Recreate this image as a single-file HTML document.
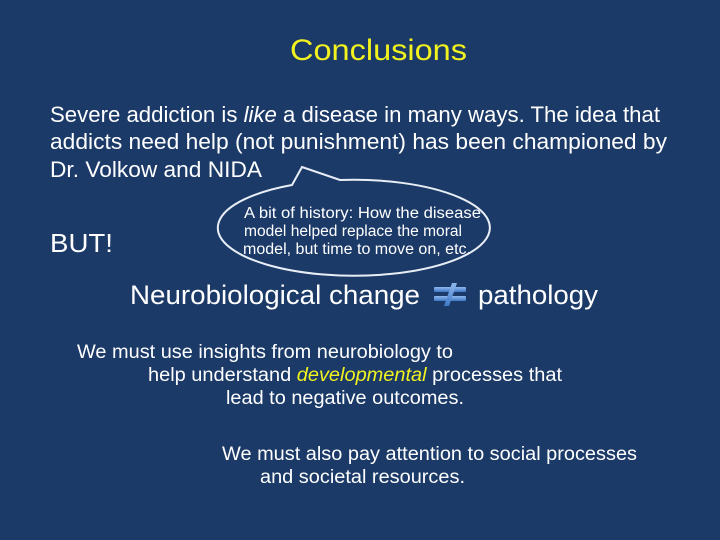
<!DOCTYPE html>
<html><head><meta charset="utf-8"><style>
html,body{margin:0;padding:0;background:#1b3a68;}
svg{display:block}
</style></head><body>
<svg width="720" height="540" xmlns="http://www.w3.org/2000/svg">
<defs>
<linearGradient id="ne" x1="0" y1="0" x2="0" y2="1">
<stop offset="0" stop-color="#8fb8ec"/><stop offset="1" stop-color="#3f78c8"/>
</linearGradient>
</defs>
<rect width="720" height="540" fill="#1b3a68"/>
<g font-family="Liberation Sans, sans-serif">
<text x="290" y="60" font-size="30" fill="#f2f21e" textLength="177" lengthAdjust="spacingAndGlyphs">Conclusions</text>
<g fill="#ffffff" font-size="22">
<text x="50" y="122" textLength="610" lengthAdjust="spacingAndGlyphs">Severe addiction is <tspan font-style="italic">like</tspan> a disease in many ways. The idea that</text>
<text x="50" y="149" textLength="617" lengthAdjust="spacingAndGlyphs">addicts need help (not punishment) has been championed by</text>
<text x="50" y="177" textLength="212" lengthAdjust="spacingAndGlyphs">Dr. Volkow and NIDA</text>
<text x="50" y="252" font-size="26" textLength="63" lengthAdjust="spacingAndGlyphs">BUT!</text>
</g>
<path d="M292,185 L302,167 L340,180 A136,48 0 1 1 292,185 Z" fill="#1b3a68" stroke="#e8eef6" stroke-width="2"/>
<g fill="#ffffff" font-size="15.5">
<text x="244" y="218" textLength="237" lengthAdjust="spacingAndGlyphs">A bit of history: How the disease</text>
<text x="244" y="236" textLength="218" lengthAdjust="spacingAndGlyphs">model helped replace the moral</text>
<text x="243" y="254" textLength="228" lengthAdjust="spacingAndGlyphs">model, but time to move on, etc.</text>
</g>
<g fill="#ffffff" font-size="27">
<text x="130" y="304" textLength="290" lengthAdjust="spacingAndGlyphs">Neurobiological change</text>
<text x="478" y="304" textLength="120" lengthAdjust="spacingAndGlyphs">pathology</text>
</g>
<g fill="url(#ne)">
<rect x="434" y="287" width="32" height="5" rx="1"/>
<rect x="434" y="296" width="32" height="5" rx="1"/>
<polygon points="452,283 457,283 449,306 444,306"/>
</g>
<g fill="#ffffff" font-size="19">
<text x="77" y="358" textLength="376" lengthAdjust="spacingAndGlyphs">We must use insights from neurobiology to</text>
<text x="148" y="381" textLength="414" lengthAdjust="spacingAndGlyphs">help understand <tspan fill="#f2f21e" font-style="italic">developmental</tspan> processes that</text>
<text x="226" y="404" textLength="238" lengthAdjust="spacingAndGlyphs">lead to negative outcomes.</text>
<text x="222" y="460" textLength="415" lengthAdjust="spacingAndGlyphs">We must also pay attention to social processes</text>
<text x="260" y="483" textLength="205" lengthAdjust="spacingAndGlyphs">and societal resources.</text>
</g>
</g>
</svg>
</body></html>
